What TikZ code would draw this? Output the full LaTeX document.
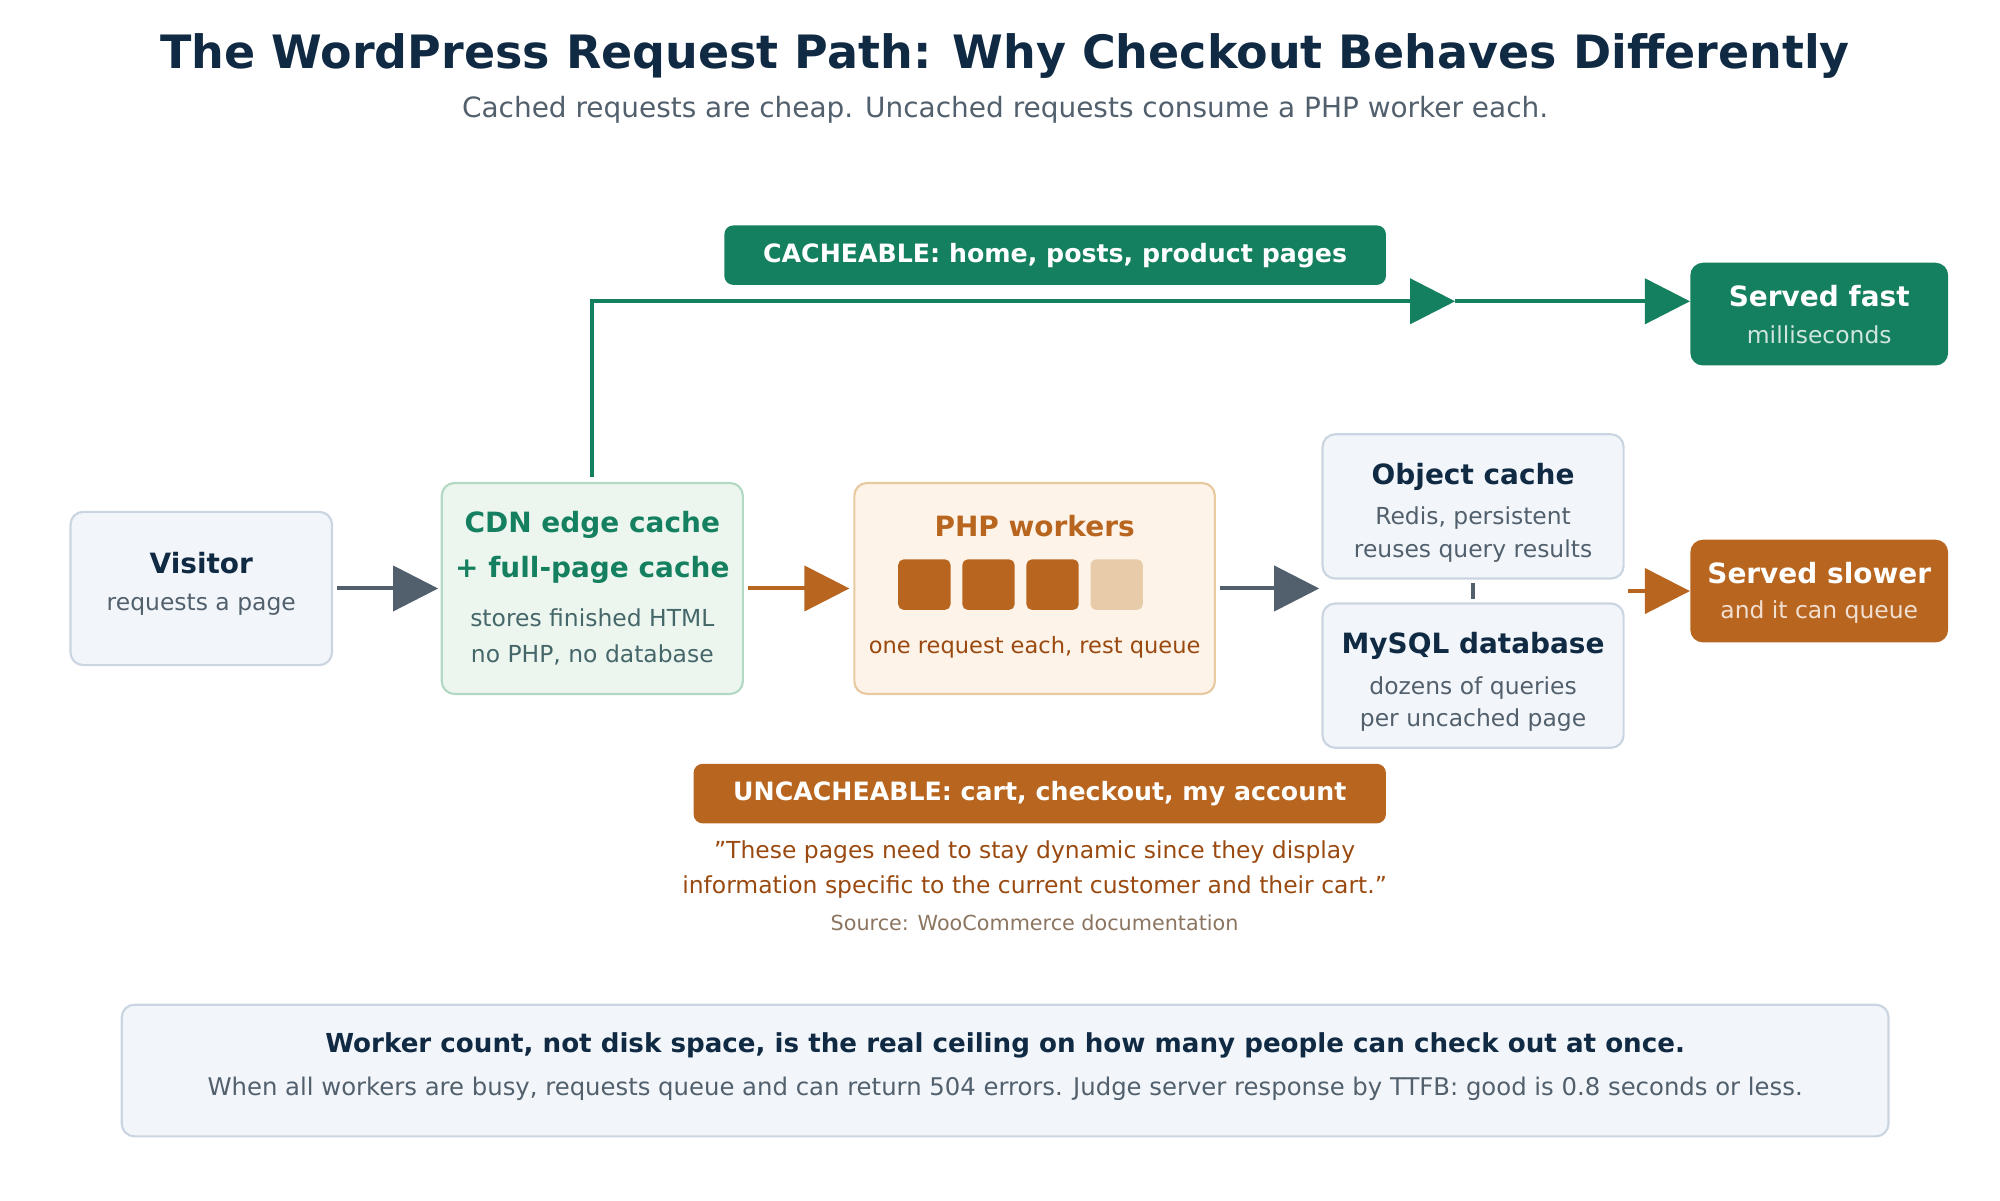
\documentclass[tikz,border=0pt]{standalone}
\usepackage{fontspec}
\setmainfont{DejaVu Sans}
\usetikzlibrary{arrows.meta,calc}
\definecolor{ink}{HTML}{102A43}
\definecolor{slate}{HTML}{52606D}
\definecolor{paleblue}{HTML}{F2F6FA}
\definecolor{lineblue}{HTML}{CBD5E1}
\definecolor{green}{HTML}{15805F}
\definecolor{palegreen}{HTML}{ECF6EF}
\definecolor{linegreen}{HTML}{B3D9C5}
\definecolor{orange}{HTML}{B8651F}
\definecolor{paleorange}{HTML}{FDF3E8}
\definecolor{lineorange}{HTML}{E8C9A0}
\definecolor{lightorange}{HTML}{E8CBA8}
\definecolor{brown}{HTML}{9A4A10}
\definecolor{tan}{HTML}{8C7560}
\tikzset{
  card/.style={draw=lineblue, fill=paleblue, line width=1.2pt, rounded corners=7pt},
  tag/.style={rounded corners=5pt, text=white, font=\fontsize{14}{16}\selectfont\bfseries},
  worker/.style={fill=orange, rounded corners=3pt, minimum width=29pt, minimum height=28pt, inner sep=0pt},
  flow/.style={line width=2.2pt, -{Triangle[length=25pt, width=25pt]}},
  ttl/.style={font=\fontsize{15.5}{18}\selectfont\bfseries},
  small/.style={font=\fontsize{13}{15}\selectfont, text=slate},
}
\begin{document}
\begin{tikzpicture}[x=0.025cm, y=-0.025cm]
\useasboundingbox (0,0) rectangle (1560,936);
\node[font=\fontsize{25.5}{29}\selectfont\bfseries, text=ink](title) at (784,44){The WordPress Request Path: Why Checkout Behaves Differently};
\node[font=\fontsize{15.5}{18}\selectfont, text=slate](sub) at (784,86){Cached requests are cheap. Uncached requests consume a PHP worker each.};
%
\node[tag, fill=green, minimum width=367pt, minimum height=33pt](C) at (823,199){CACHEABLE: home, posts, product pages};
\node[tag, fill=orange, minimum width=384pt, minimum height=33pt](U) at (811,619){UNCACHEABLE: cart, checkout, my account};
%
\node[card, minimum width=145pt, minimum height=85pt](V) at (157,459){};
\node[ttl, text=ink] at (157,439){Visitor};
\node[small] at (157,472){requests a page};
%
\node[card, draw=linegreen, fill=palegreen, minimum width=167pt, minimum height=117pt](CDN) at (462,459){};
\node[ttl, text=green, align=center, font=\fontsize{15.5}{24.5}\selectfont\bfseries] at (462,427){CDN edge cache\\+ full-page cache};
\node[small, text=slate!80!green, align=center, font=\fontsize{13}{20}\selectfont] at (462,497){stores finished HTML\\no PHP, no database};
%
\node[card, draw=lineorange, fill=paleorange, minimum width=200pt, minimum height=117pt](PHP) at (807,459){};
\node[ttl, text=orange] at (807,410){PHP workers};
\foreach \x/\c in {721/orange, 771/orange, 821/orange, 871/lightorange}
  \node[worker, fill=\c] (w\x) at (\x,456){};
\node[small, text=brown, font=\fontsize{12.5}{15}\selectfont] at (807,505){one request each, rest queue};
%
\node[card, minimum width=167pt, minimum height=80pt](OC) at (1149,395){};
\node[ttl, text=ink] at (1149,372){Object cache};
\node[small, align=center, font=\fontsize{13}{18}\selectfont] at (1149,417){Redis, persistent\\reuses query results};
\node[card, minimum width=167pt, minimum height=80pt](DB) at (1149,527){};
\node[ttl, text=ink] at (1149,504){MySQL database};
\node[small, align=center, font=\fontsize{13}{18}\selectfont] at (1149,549){dozens of queries\\per uncached page};
\draw[slate, line width=2pt] ($(OC.south)+(0,3)$) -- ($(DB.north)+(0,-3)$);
%
\node[rounded corners=7pt, fill=green, minimum width=143pt, minimum height=57pt](F) at (1419,245){};
\node[ttl, text=white] at (1419,231){Served fast};
\node[small, text=white!80!green] at (1419,261){milliseconds};
\node[rounded corners=7pt, fill=orange, minimum width=143pt, minimum height=57pt](S) at (1419,461){};
\node[ttl, text=white] at (1419,447){Served slower};
\node[small, text=white!80!orange] at (1419,477){and it can queue};
%
\coordinate (turn) at (462,235);
\coordinate (mid) at (1135,235);
\draw[flow, slate] ($(V.east)+(3,0)$) -- ($(CDN.west)+(-2,0)$);
\draw[flow, orange] ($(CDN.east)+(3,0)$) -- ($(PHP.west)+(-3,0)$);
\draw[flow, slate] ($(PHP.east)+(3,0)$) -- (1029,459);
\draw[flow, orange] (1270,461) -- (S.west);
\draw[flow, green] ($(CDN.north)+(0,-4)$) -- (turn) -- (mid);
\draw[flow, green] (mid) -- (F.west |- mid);
%
\node[text=brown, align=center, font=\fontsize{13}{19.5}\selectfont](Q) at (807,678){\symbol{34}These pages need to stay dynamic since they display\\information specific to the current customer and their cart.\symbol{34}};
\node[text=tan, font=\fontsize{11.5}{14}\selectfont](src) at (807,720){Source: WooCommerce documentation};
%
\node[card, minimum width=980pt, minimum height=73pt](B) at (784,835){};
\node[text=ink, font=\fontsize{14.5}{17}\selectfont\bfseries] at (784,815){Worker count, not disk space, is the real ceiling on how many people can check out at once.};
\node[small, font=\fontsize{13.5}{16}\selectfont] at (784,849){When all workers are busy, requests queue and can return 504 errors. Judge server response by TTFB: good is 0.8 seconds or less.};
\end{tikzpicture}
\end{document}
